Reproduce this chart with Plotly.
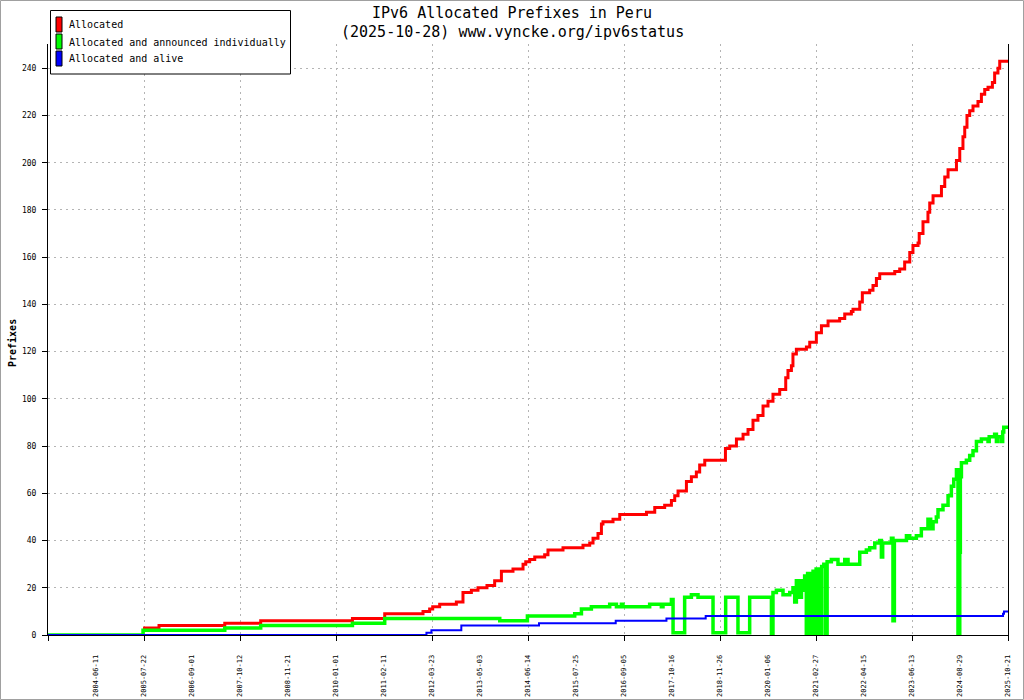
import plotly.graph_objects as go

# ---------------- data (x = observation index, 406 samples per label) ----------------
tick_labels = ["2004-06-11", "2005-07-22", "2006-09-01", "2007-10-12", "2008-11-21",
               "2010-01-01", "2011-02-11", "2012-03-23", "2013-05-03", "2014-06-14",
               "2015-07-25", "2016-09-05", "2017-10-16", "2018-11-26", "2020-01-06",
               "2021-02-27", "2022-04-15", "2023-06-13", "2024-08-29", "2025-10-21"]

series_names = ["Allocated", "Allocated and announced individually", "Allocated and alive"]

title_lines = ["IPv6 Allocated Prefixes in Peru", "(2025-10-28) www.vyncke.org/ipv6status"]

alloc_idx = [804, 939, 1495, 1799, 2575, 2848, 3172, 3228, 3254, 3313, 3454, 3510, 3581, 3637,
             3713, 3778, 3835, 3933, 4018, 4041, 4074, 4117, 4201, 4229, 4356, 4525, 4582, 4610,
             4652, 4681, 4694, 4779, 4836, 5062, 5132, 5216, 5273, 5301, 5329, 5400, 5442, 5484,
             5512, 5555, 5730, 5766, 5823, 5879, 5921, 5963, 6005, 6048, 6090, 6132, 6189, 6240,
             6259, 6288, 6301, 6330, 6415, 6443, 6499, 6542, 6598, 6696, 6739, 6795, 6809, 6866,
             6888, 6950, 6978, 7007, 7035, 7162, 7204, 7246, 7289, 7316, 7359, 7369, 7401, 7443,
             7458, 7486, 7557, 7585, 7613, 7684, 7712, 7739, 7754, 7773, 7796, 7824, 7866, 7895,
             7923, 7951, 7988, 8007, 8035, 8050, 8120]
alloc_val = [3, 4, 5, 6, 7, 9, 10, 11, 12, 13, 14, 18, 19, 20,
             21, 23, 27, 28, 30, 31, 32, 33, 34, 36, 37, 38, 39, 41,
             43, 47, 48, 49, 51, 52, 54, 55, 57, 59, 61, 65, 67, 69,
             72, 74, 79, 80, 83, 85, 87, 91, 93, 97, 99, 102, 104, 109,
             112, 114, 119, 121, 122, 124, 128, 131, 133, 134, 136, 137, 138, 141,
             145, 146, 148, 151, 153, 154, 155, 158, 162, 165, 166, 170, 175, 179,
             183, 186, 190, 194, 197, 201, 206, 211, 215, 220, 222, 224, 226, 229,
             231, 232, 234, 238, 240, 243, 243]

announced_idx = [0, 804, 1495, 1799, 2575, 2848, 3821, 4055, 4455, 4512, 4596, 4751, 4808, 4850,
                 4863, 5089, 5188, 5202, 5273, 5287, 5385, 5442, 5498, 5625, 5732, 5836, 5935,
                 6119, 6132, 6161, 6217, 6274, 6301, 6316, 6330, 6358, 6373, 6392, 6400,
                 6414, 6425, 6434, 6447, 6455, 6471, 6485, 6497, 6502, 6516, 6530, 6544, 6562,
                 6576, 6590, 6626, 6682, 6739, 6767, 6849, 6866, 6922, 6950, 6993, 7035, 7049,
                 7060, 7134, 7147, 7159, 7261, 7289, 7345, 7387, 7443, 7466, 7486, 7514, 7528,
                 7570, 7613, 7641, 7661, 7684, 7697, 7712, 7717, 7726, 7768, 7796, 7824, 7853,
                 7895, 7937, 7951, 7961, 8007, 8022, 8033, 8064, 8075, 8084, 8120]
announced_val = [0, 2, 3, 4, 5, 7, 6, 8, 9, 11, 12, 13, 12, 13,
                 12, 13, 12, 13, 15, 1, 16, 17, 16, 1, 16, 1, 16,
                 0, 18, 19, 17, 18, 20, 14, 23, 16, 23, 19, 25,
                 0, 26, 0, 26, 0, 27, 0, 28, 0, 28, 0, 29, 30,
                 0, 31, 32, 30, 32, 30, 30, 35, 36, 37, 39, 40, 33,
                 39, 41, 6, 40, 42, 41, 42, 45, 49, 45, 48, 50, 53,
                 55, 59, 63, 66, 70, 0, 35, 67, 73, 74, 76, 78, 82,
                 83, 83, 82, 84, 85, 82, 84, 82, 86, 88, 88]

alive_idx = [0, 3201, 3243, 3496, 4153, 4802, 5231, 5563, 8078, 8086, 8120]
alive_val = [0, 1, 2, 4, 5, 6, 7, 8, 9, 10, 10]

# ---------------- styling / geometry ----------------
W, H = 1024, 700
L, R, T, B = 48, 16, 44, 65
MONO = "DejaVu Sans Mono"
GRID = "#b4b4b4"
colors = ["#ff0000", "#00ff00", "#0000ff"]
label_pos = [406 * (k + 1) for k in range(len(tick_labels))]


def px2x(px):
    return (px - L) / (W - L - R)


def py2y(py):
    return (H - B - py) / (H - T - B)


fig = go.Figure()
fig.add_trace(go.Scatter(x=alloc_idx, y=alloc_val, mode="lines", line_shape="hv",
                         line=dict(color=colors[0], width=3), name=series_names[0],
                         showlegend=False))
fig.add_trace(go.Scatter(x=announced_idx, y=announced_val, mode="lines", line_shape="hv",
                         line=dict(color=colors[1], width=3.5), name=series_names[1],
                         showlegend=False))
fig.add_trace(go.Scatter(x=alive_idx, y=alive_val, mode="lines", line_shape="hv",
                         line=dict(color=colors[2], width=2), name=series_names[2],
                         showlegend=False))

shapes = []
annotations = []

# outer frame
shapes.append(dict(type="rect", xref="paper", yref="paper",
                   x0=px2x(0.5), x1=px2x(1023.5), y0=py2y(699.5), y1=py2y(0.5),
                   line=dict(color="#a0a0a0", width=1), layer="above"))

# title (two centred lines)
for i, line in enumerate(title_lines):
    annotations.append(dict(xref="paper", yref="paper", x=px2x(512), y=py2y(13 + 19 * i),
                            text=line, showarrow=False, xanchor="center", yanchor="middle",
                            font=dict(family=MONO, size=15, color="black")))

# manual legend
shapes.append(dict(type="rect", xref="paper", yref="paper",
                   x0=px2x(50.5), x1=px2x(290.5), y0=py2y(74), y1=py2y(10.5),
                   line=dict(color="black", width=1), fillcolor="white", layer="above"))
for i, (nm, c) in enumerate(zip(series_names, colors)):
    top = 17 + 17 * i
    shapes.append(dict(type="rect", xref="paper", yref="paper",
                       x0=px2x(56), x1=px2x(62), y0=py2y(top + 15), y1=py2y(top),
                       line=dict(color="black", width=1), fillcolor=c, layer="above"))
    annotations.append(dict(xref="paper", yref="paper", x=px2x(66.5), y=py2y(top + 8),
                            text=nm, showarrow=False, xanchor="left", yanchor="middle",
                            font=dict(family=MONO, size=10, color="black")))

# y axis title
annotations.append(dict(xref="paper", yref="paper", x=px2x(12), y=py2y(343),
                        text="<b>Prefixes</b>", showarrow=False, textangle=-90,
                        xanchor="center", yanchor="middle",
                        font=dict(family=MONO, size=10, color="black")))

fig.update_layout(
    width=W, height=H,
    margin=dict(l=L, r=R, t=T, b=B, pad=0, autoexpand=False),
    paper_bgcolor="white", plot_bgcolor="white",
    shapes=shapes, annotations=annotations,
    showlegend=False,
    xaxis=dict(range=[0, 8120], tickmode="array", tickvals=label_pos, ticktext=tick_labels,
               tickangle=-90, tickfont=dict(family=MONO, size=7, color="black"),
               ticks="", showgrid=False, zeroline=False, automargin=False,
               showline=True, linecolor="black", linewidth=1,
               ticklabelstandoff=16,
               minor=dict(tick0=0, dtick=812, ticks="outside", ticklen=5, tickcolor="black",
                          showgrid=True, gridcolor=GRID, griddash="2px,4px", gridwidth=1)),
    yaxis=dict(range=[0, 250.3], tick0=0, dtick=20, ticks="outside", ticklen=5,
               tickcolor="black", tickfont=dict(family=MONO, size=8, color="black"),
               showgrid=True, gridcolor=GRID, griddash="2px,4px", gridwidth=1,
               zeroline=False, showline=True, linecolor="black", linewidth=1, mirror=True,
               automargin=False, ticklabelstandoff=4),
)

fig.write_html("out.html", config={"displayModeBar": False},
               post_script="document.body.style.margin='0';")
